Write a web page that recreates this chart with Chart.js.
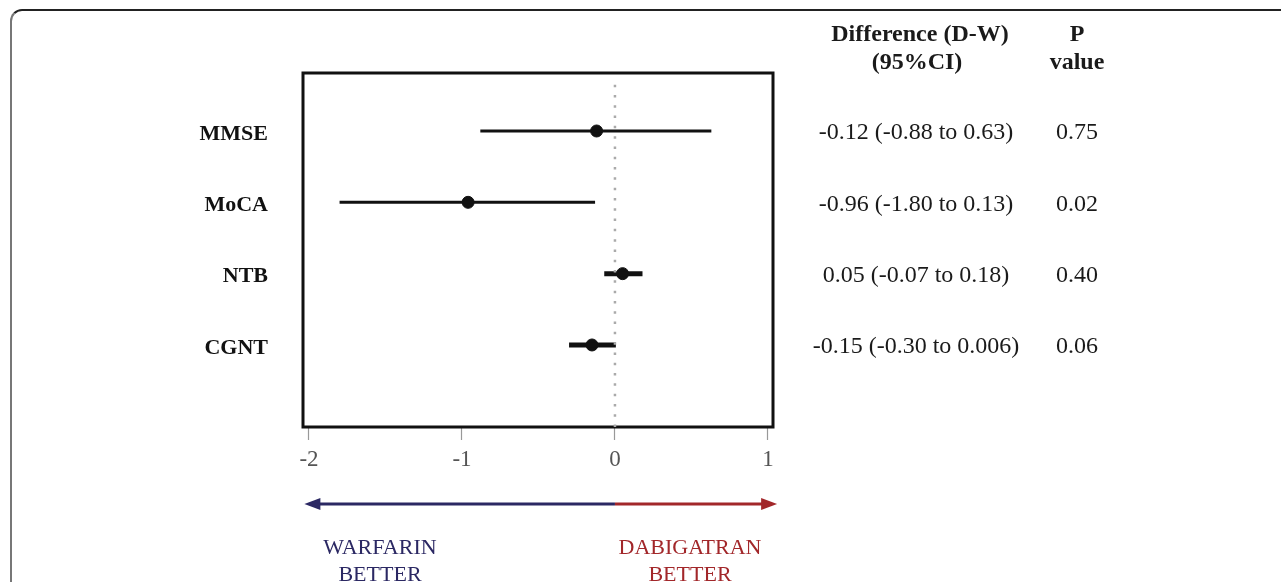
<!DOCTYPE html>
<html>
<head>
<meta charset="utf-8">
<script src="https://cdn.jsdelivr.net/npm/chart.js@4"></script>
<style>
  body { margin: 0; background: #fff; }
  #frame {
    position: absolute; left: 10px; top: 9px; width: 1300px; height: 600px;
    border-top: 2px solid #222; border-left: 2px solid #777;
    border-top-left-radius: 12px;
  }
  #chart { position: absolute; left: 0; top: 0; }
</style>
</head>
<body>
<div id="frame"></div>
<canvas id="chart" width="1281" height="582"></canvas>
<script>
const outcomes = ['MMSE', 'MoCA', 'NTB', 'CGNT'];
const estimates = [-0.12, -0.96, 0.05, -0.15];
const lowerCI = [-0.88, -1.80, -0.07, -0.30];
const upperCI = [0.63, -0.13, 0.18, 0.006];
const diffLabels = ['-0.12 (-0.88 to 0.63)', '-0.96 (-1.80 to 0.13)', '0.05 (-0.07 to 0.18)', '-0.15 (-0.30 to 0.006)'];
const pValues = ['0.75', '0.02', '0.40', '0.06'];
const xTicks = [-2, -1, 0, 1];
const barWidths = [3, 3, 5, 5];

const serif = '"Liberation Serif", "Times New Roman", serif';
const navy = '#2b2863';
const red = '#a2272a';

chartIt();

function chartIt() {
  const datasets = [];
  // dotted line of no difference
  datasets.push({
    type: 'line',
    data: [{x: 0, y: 0.35}, {x: 0, y: 5.15}],
    borderColor: '#aaaaaa',
    borderWidth: 2.5,
    borderDash: [2.5, 7.8],
    pointRadius: 0
  });
  outcomes.forEach((name, i) => {
    datasets.push({
      type: 'line',
      data: [{x: lowerCI[i], y: i + 1}, {x: upperCI[i], y: i + 1}],
      borderColor: '#111',
      borderWidth: barWidths[i],
      pointRadius: 0
    });
  });
  datasets.push({
    type: 'scatter',
    data: estimates.map((v, i) => ({x: v, y: i + 1})),
    backgroundColor: '#111',
    borderColor: '#111',
    pointRadius: 6,
    pointHoverRadius: 6
  });

  const extras = {
    id: 'extras',
    beforeDatasetsDraw(chart) {
      const {ctx, chartArea: a} = chart;
      ctx.save();
      ctx.lineWidth = 3;
      ctx.strokeStyle = '#111';
      ctx.strokeRect(a.left, a.top, a.right - a.left, a.bottom - a.top);
      ctx.restore();
    },
    afterDraw(chart) {
      const {ctx} = chart;
      const x = chart.scales.x, y = chart.scales.y;
      ctx.save();
      ctx.fillStyle = '#1a1a1a';
      ctx.textAlign = 'center';
      ctx.textBaseline = 'middle';
      ctx.font = 'bold 24px ' + serif;
      ctx.fillText('Difference (D-W)', 920, 35);
      ctx.fillText('(95%CI)', 917, 63);
      ctx.fillText('P', 1077, 35);
      ctx.fillText('value', 1077, 63);
      ctx.font = '24px ' + serif;
      outcomes.forEach((name, i) => {
        const py = y.getPixelForValue(i + 1) + 2;
        ctx.fillText(diffLabels[i], 916, py);
        ctx.fillText(pValues[i], 1077, py);
      });

      // direction arrow
      const ay = 504;
      const x0 = x.getPixelForValue(-2.03), xm = x.getPixelForValue(0), x1 = x.getPixelForValue(1.06);
      ctx.lineWidth = 3;
      ctx.strokeStyle = navy;
      ctx.beginPath(); ctx.moveTo(x0 + 10, ay); ctx.lineTo(xm, ay); ctx.stroke();
      ctx.fillStyle = navy;
      ctx.beginPath(); ctx.moveTo(x0, ay); ctx.lineTo(x0 + 16, ay - 6); ctx.lineTo(x0 + 16, ay + 6); ctx.closePath(); ctx.fill();
      ctx.strokeStyle = red;
      ctx.beginPath(); ctx.moveTo(xm, ay); ctx.lineTo(x1 - 10, ay); ctx.stroke();
      ctx.fillStyle = red;
      ctx.beginPath(); ctx.moveTo(x1, ay); ctx.lineTo(x1 - 16, ay - 6); ctx.lineTo(x1 - 16, ay + 6); ctx.closePath(); ctx.fill();

      ctx.font = '22px ' + serif;
      ctx.fillStyle = navy;
      ctx.fillText('WARFARIN', 380, 548);
      ctx.fillText('BETTER', 380, 575);
      ctx.fillStyle = red;
      ctx.fillText('DABIGATRAN', 690, 548);
      ctx.fillText('BETTER', 690, 575);
      ctx.restore();
    }
  };

  const ctx = document.getElementById('chart').getContext('2d');
  new Chart(ctx, {
    data: { datasets: datasets },
    plugins: [extras],
    options: {
      responsive: false,
      animation: false,
      layout: { padding: { left: 0, top: 73, right: 508, bottom: 0 } },
      plugins: { legend: { display: false }, tooltip: { enabled: false } },
      scales: {
        x: {
          type: 'linear',
          min: -2.039,
          max: 1.033,
          afterBuildTicks: s => { s.ticks = xTicks.map(v => ({value: v})); },
          afterFit: s => { s.height = 155; },
          grid: { drawOnChartArea: false, tickLength: 13, tickColor: '#999', tickWidth: 1.2 },
          border: { display: false },
          ticks: { font: { family: serif, size: 23 }, color: '#555', padding: 6 }
        },
        y: {
          type: 'linear',
          reverse: true,
          min: 0.187,
          max: 5.15,
          afterBuildTicks: s => { s.ticks = outcomes.map((n, i) => ({value: i + 1})); },
          afterFit: s => { s.width = 303; },
          grid: { display: false, drawTicks: false },
          border: { display: false },
          ticks: {
            callback: v => outcomes[v - 1],
            font: { family: serif, size: 22, weight: 'bold' },
            color: '#111',
            padding: 35,
            labelOffset: 3
          }
        }
      }
    }
  });
}
</script>
</body>
</html>
